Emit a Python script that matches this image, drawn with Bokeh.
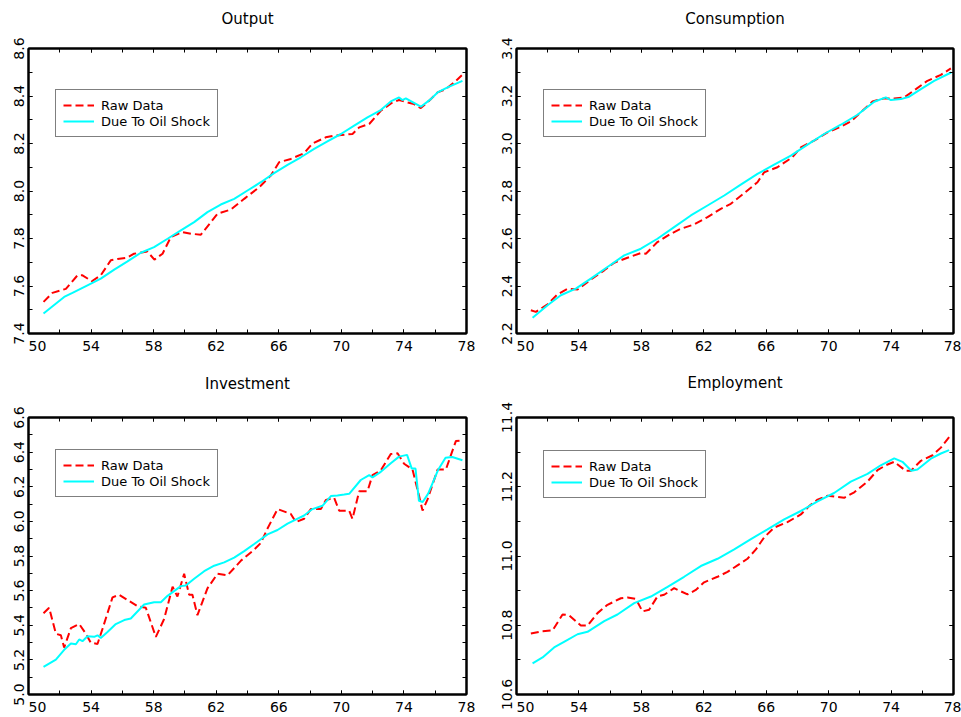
from bokeh.plotting import figure
from bokeh.layouts import column, row
from bokeh.models import (Range1d, LinearAxis, FixedTicker, PrintfTickFormatter,
                          CustomJSTickFormatter, Legend, LegendItem)
from bokeh.embed import file_html
from bokeh.resources import INLINE

# ---------------- data ----------------
output_raw_x = [50.96, 51.53, 52.39, 53.13, 53.45, 54.05, 54.62, 55.26, 55.69, 56.29, 56.75, 57.60,
                58.05, 58.57, 59.10, 59.84, 60.38, 61.02, 62.08, 62.94, 63.79, 64.75, 65.49, 66.02,
                66.77, 67.62, 68.15, 69.00, 69.54, 70.71, 71.14, 71.78, 72.52, 73.27, 73.69, 74.23,
                74.65, 75.08, 75.61, 76.15, 76.68, 77.21, 77.70]
output_raw_y = [7.533, 7.571, 7.588, 7.645, 7.645, 7.620, 7.645, 7.708, 7.714, 7.719, 7.736, 7.745,
                7.711, 7.736, 7.806, 7.827, 7.820, 7.816, 7.904, 7.922, 7.967, 8.016, 8.065, 8.121,
                8.135, 8.159, 8.200, 8.226, 8.233, 8.240, 8.268, 8.282, 8.338, 8.373, 8.383, 8.373,
                8.366, 8.349, 8.380, 8.415, 8.429, 8.457, 8.487]
output_oil_x = [50.96, 52.28, 52.81, 53.77, 54.62, 55.48, 56.33, 57.18, 58.03, 58.89, 59.74, 60.59,
                61.44, 62.29, 63.15, 64.00, 64.85, 65.70, 66.56, 67.41, 68.26, 69.11, 69.97, 70.82,
                71.67, 72.52, 73.16, 73.69, 73.90, 74.12, 75.08, 75.72, 76.15, 76.79, 77.74]
output_oil_y = [7.484, 7.554, 7.571, 7.603, 7.631, 7.669, 7.704, 7.740, 7.764, 7.799, 7.834, 7.869,
                7.911, 7.943, 7.967, 8.002, 8.037, 8.075, 8.110, 8.142, 8.177, 8.209, 8.240, 8.275,
                8.310, 8.341, 8.377, 8.394, 8.383, 8.390, 8.355, 8.387, 8.415, 8.436, 8.464]

cons_raw_x = [50.92, 51.24, 51.99, 52.63, 53.27, 53.91, 54.76, 55.62, 56.26, 57.11, 57.97, 58.29,
              59.03, 59.89, 60.53, 61.38, 62.24, 63.09, 63.73, 64.59, 65.44, 65.87, 66.72, 67.68,
              68.22, 69.07, 69.93, 70.78, 71.42, 72.06, 72.81, 73.56, 74.20, 74.84, 75.59, 76.33,
              77.19, 77.83]
cons_raw_y = [2.298, 2.291, 2.323, 2.365, 2.388, 2.385, 2.427, 2.466, 2.498, 2.519, 2.539, 2.536,
              2.585, 2.620, 2.641, 2.659, 2.690, 2.725, 2.746, 2.791, 2.837, 2.879, 2.900, 2.942,
              2.984, 3.012, 3.047, 3.071, 3.093, 3.131, 3.177, 3.190, 3.190, 3.194, 3.229, 3.264,
              3.289, 3.316]
cons_oil_x = [51.03, 51.99, 52.84, 53.80, 54.76, 55.83, 56.90, 57.97, 59.03, 60.10, 61.17, 62.24,
              63.31, 64.37, 65.44, 66.51, 67.58, 68.65, 69.71, 70.78, 71.85, 72.92, 73.66, 73.99,
              74.63, 75.16, 75.91, 76.76, 77.85]
cons_oil_y = [2.266, 2.319, 2.361, 2.389, 2.431, 2.480, 2.529, 2.557, 2.599, 2.648, 2.697, 2.739,
              2.781, 2.827, 2.872, 2.911, 2.949, 2.995, 3.040, 3.079, 3.121, 3.176, 3.194, 3.183,
              3.187, 3.197, 3.229, 3.264, 3.299]

inv_raw_x = [50.96, 51.32, 51.75, 52.07, 52.28, 52.71, 53.24, 53.67, 53.98, 54.41, 54.73, 55.37,
             55.80, 56.97, 57.50, 58.14, 58.67, 59.21, 59.52, 59.95, 60.27, 60.48, 60.80, 61.44,
             62.08, 62.72, 63.57, 64.43, 64.85, 65.28, 65.92, 66.77, 67.09, 67.62, 68.05, 68.69,
             69.01, 69.54, 69.86, 70.50, 70.71, 71.14, 71.67, 71.99, 72.52, 73.16, 73.59, 74.01,
             74.55, 74.97, 75.19, 75.51, 76.15, 76.68, 77.32, 77.74]
inv_raw_y = [5.469, 5.501, 5.351, 5.342, 5.271, 5.383, 5.407, 5.351, 5.299, 5.292, 5.379, 5.561,
             5.576, 5.510, 5.501, 5.333, 5.436, 5.622, 5.566, 5.697, 5.576, 5.576, 5.458, 5.613,
             5.697, 5.688, 5.772, 5.837, 5.875, 5.959, 6.071, 6.043, 5.996, 6.015, 6.071, 6.071,
             6.123, 6.136, 6.062, 6.062, 6.015, 6.174, 6.174, 6.267, 6.295, 6.389, 6.393, 6.333,
             6.299, 6.146, 6.062, 6.127, 6.299, 6.299, 6.464, 6.467]
inv_oil_x = [50.96, 51.75, 52.28, 52.71, 53.03, 53.24, 53.45, 53.77, 54.20, 54.41, 54.62, 55.05,
             55.58, 56.12, 56.54, 57.39, 58.03, 58.46, 58.89, 59.74, 60.06, 60.59, 61.23, 61.87,
             62.51, 63.15, 63.79, 64.43, 65.28, 65.92, 66.56, 66.98, 67.62, 68.15, 68.79, 69.33,
             69.75, 70.18, 70.50, 71.24, 71.78, 71.99, 72.52, 73.16, 73.69, 74.20, 74.50, 74.74,
             74.96, 75.20, 75.55, 76.20, 76.66, 77.09, 77.74]
inv_oil_y = [5.159, 5.202, 5.258, 5.295, 5.290, 5.318, 5.308, 5.336, 5.333, 5.342, 5.327, 5.361,
             5.407, 5.430, 5.439, 5.520, 5.533, 5.533, 5.570, 5.626, 5.630, 5.669, 5.712, 5.744,
             5.763, 5.791, 5.828, 5.869, 5.925, 5.950, 5.987, 6.006, 6.034, 6.071, 6.090, 6.146,
             6.150, 6.155, 6.159, 6.239, 6.267, 6.254, 6.286, 6.336, 6.374, 6.384, 6.305, 6.305,
             6.119, 6.112, 6.160, 6.300, 6.367, 6.372, 6.353]

emp_raw_x = [50.92, 51.67, 52.31, 52.95, 53.37, 54.12, 54.55, 55.19, 55.83, 56.69, 57.11, 57.65,
             58.07, 58.50, 59.03, 59.46, 60.10, 60.96, 61.49, 62.02, 62.88, 63.52, 64.16, 64.80,
             65.34, 65.87, 66.51, 67.36, 68.22, 68.75, 69.29, 69.93, 70.35, 70.99, 71.64, 72.49,
             73.13, 73.66, 74.20, 74.95, 75.27, 75.91, 76.66, 77.19, 77.72]
emp_raw_y = [10.776, 10.783, 10.785, 10.831, 10.829, 10.799, 10.799, 10.835, 10.859, 10.878, 10.880,
             10.876, 10.840, 10.845, 10.883, 10.888, 10.907, 10.889, 10.902, 10.924, 10.940, 10.954,
             10.973, 10.992, 11.019, 11.054, 11.082, 11.098, 11.120, 11.144, 11.163, 11.174, 11.172,
             11.168, 11.184, 11.215, 11.248, 11.262, 11.272, 11.246, 11.246, 11.275, 11.291, 11.313,
             11.343]
emp_oil_x = [51.03, 51.67, 52.41, 53.16, 53.91, 54.55, 55.62, 56.47, 57.54, 58.61, 59.68, 60.74,
             61.81, 62.88, 63.95, 65.02, 66.08, 67.15, 68.22, 69.29, 70.35, 71.42, 72.49, 73.34,
             74.20, 74.73, 75.30, 75.69, 76.55, 77.19, 77.72]
emp_oil_y = [10.690, 10.707, 10.736, 10.755, 10.774, 10.781, 10.812, 10.831, 10.864, 10.883, 10.911,
             10.940, 10.971, 10.992, 11.019, 11.049, 11.077, 11.106, 11.130, 11.158, 11.182, 11.215,
             11.237, 11.262, 11.282, 11.272, 11.246, 11.250, 11.281, 11.296, 11.306]

x_limits = (50, 78)
x_major_ticks = [50, 54, 58, 62, 66, 70, 74, 78]
x_minor_ticks = [50, 52, 54, 56, 58, 60, 62, 64, 66, 68, 70, 72, 74, 76, 78]
titles = ["Output", "Consumption", "Investment", "Employment"]
y_limits = [(7.4, 8.6), (2.2, 3.4), (5.0, 6.6), (10.6, 11.4)]
y_major_ticks = [
    [7.4, 7.6, 7.8, 8.0, 8.2, 8.4, 8.6],
    [2.2, 2.4, 2.6, 2.8, 3.0, 3.2, 3.4],
    [5.0, 5.2, 5.4, 5.6, 5.8, 6.0, 6.2, 6.4, 6.6],
    [10.6, 10.8, 11.0, 11.2, 11.4],
]
legend_labels = ["Raw Data", "Due To Oil Shock"]

FONT = "DejaVu Sans"


def minor_of(ticks):
    out = []
    for a, b in zip(ticks[:-1], ticks[1:]):
        out += [a, round((a + b) / 2, 2)]
    return out + [ticks[-1]]


def make_panel(title, ylim, yticks, rx, ry, ox, oy, width, height, borders, legend_top, title_gap):
    bl, br, bt, bb = borders
    frame_h = height - bt - bb
    p = figure(width=width, height=height, output_backend="svg", toolbar_location=None,
               x_range=Range1d(*x_limits), y_range=Range1d(*ylim),
               min_border_left=bl, min_border_right=br, min_border_top=bt, min_border_bottom=bb,
               background_fill_color="white", border_fill_color="white")
    p.xgrid.visible = False
    p.ygrid.visible = False
    p.outline_line_color = "black"
    p.outline_line_width = 2

    def style(ax):
        ax.axis_line_color = "black"
        ax.axis_line_width = 2
        ax.major_tick_in = 4
        ax.major_tick_out = 0
        ax.minor_tick_in = 4
        ax.minor_tick_out = 0
        ax.major_tick_line_color = "black"
        ax.minor_tick_line_color = "black"

    xa = p.xaxis[0]
    xa.ticker = FixedTicker(ticks=x_major_ticks, minor_ticks=x_minor_ticks)
    style(xa)
    xa.major_label_text_font = FONT
    xa.major_label_text_font_size = "14px"
    xa.major_label_text_color = "black"
    xa.major_label_standoff = 4
    xa.major_label_overrides = {x_major_ticks[0]: "\u00a0\u00a0\u00a0\u00a0" + str(x_major_ticks[0])}

    ya = p.yaxis[0]
    ya.ticker = FixedTicker(ticks=yticks, minor_ticks=minor_of(yticks))
    ya.formatter = PrintfTickFormatter(format="%.1f")
    style(ya)
    ya.major_label_orientation = "vertical"
    ya.major_label_text_font = FONT
    ya.major_label_text_font_size = "14px"
    ya.major_label_text_color = "black"
    ya.major_label_standoff = 5

    blank = CustomJSTickFormatter(code="return '';")
    ra = LinearAxis(ticker=FixedTicker(ticks=yticks, minor_ticks=minor_of(yticks)), formatter=blank,
                    major_label_text_font_size="0px", major_label_standoff=0)
    style(ra)
    # top axis: inward ticks only, carries the panel title as its label
    ta = LinearAxis(ticker=FixedTicker(ticks=x_major_ticks, minor_ticks=x_minor_ticks), formatter=blank,
                    major_label_text_font_size="0px", major_label_standoff=0,
                    axis_label=title, axis_label_standoff=title_gap,
                    axis_label_text_font=FONT, axis_label_text_font_size="15px",
                    axis_label_text_font_style="normal", axis_label_text_color="black")
    style(ta)
    p.add_layout(ra, "right")
    p.add_layout(ta, "above")

    r1 = p.line(rx, ry, line_color="#ff0000", line_width=2, line_dash="8 4")
    r2 = p.line(ox, oy, line_color="#00ffff", line_width=2)

    legend_h = 47
    leg = Legend(items=[LegendItem(label=legend_labels[0], renderers=[r1]),
                        LegendItem(label=legend_labels[1], renderers=[r2])],
                 location=(27, frame_h - legend_top - legend_h), margin=0, padding=7, spacing=0,
                 glyph_width=31, glyph_height=16, label_height=16, label_standoff=7,
                 label_text_font=FONT, label_text_font_size="13px", label_text_color="black",
                 border_line_color="black", border_line_width=1,
                 background_fill_color="white", background_fill_alpha=1.0)
    p.add_layout(leg, "center")
    return p


p1 = make_panel(titles[0], y_limits[0], y_major_ticks[0], output_raw_x, output_raw_y,
                output_oil_x, output_oil_y, 488, 360, (28, 22, 48, 27), 42, 21)
p2 = make_panel(titles[1], y_limits[1], y_major_ticks[1], cons_raw_x, cons_raw_y,
                cons_oil_x, cons_oil_y, 473, 360, (28, 8, 48, 27), 42, 21)
p3 = make_panel(titles[2], y_limits[2], y_major_ticks[2], inv_raw_x, inv_raw_y,
                inv_oil_x, inv_oil_y, 488, 357, (28, 22, 52, 19), 42, 25)
p4 = make_panel(titles[3], y_limits[3], y_major_ticks[3], emp_raw_x, emp_raw_y,
                emp_oil_x, emp_oil_y, 473, 357, (28, 8, 57, 19), 38, 26)

layout = column(row(p1, p2), row(p3, p4))

with open("out.html", "w") as f:
    f.write(file_html(layout, INLINE))
